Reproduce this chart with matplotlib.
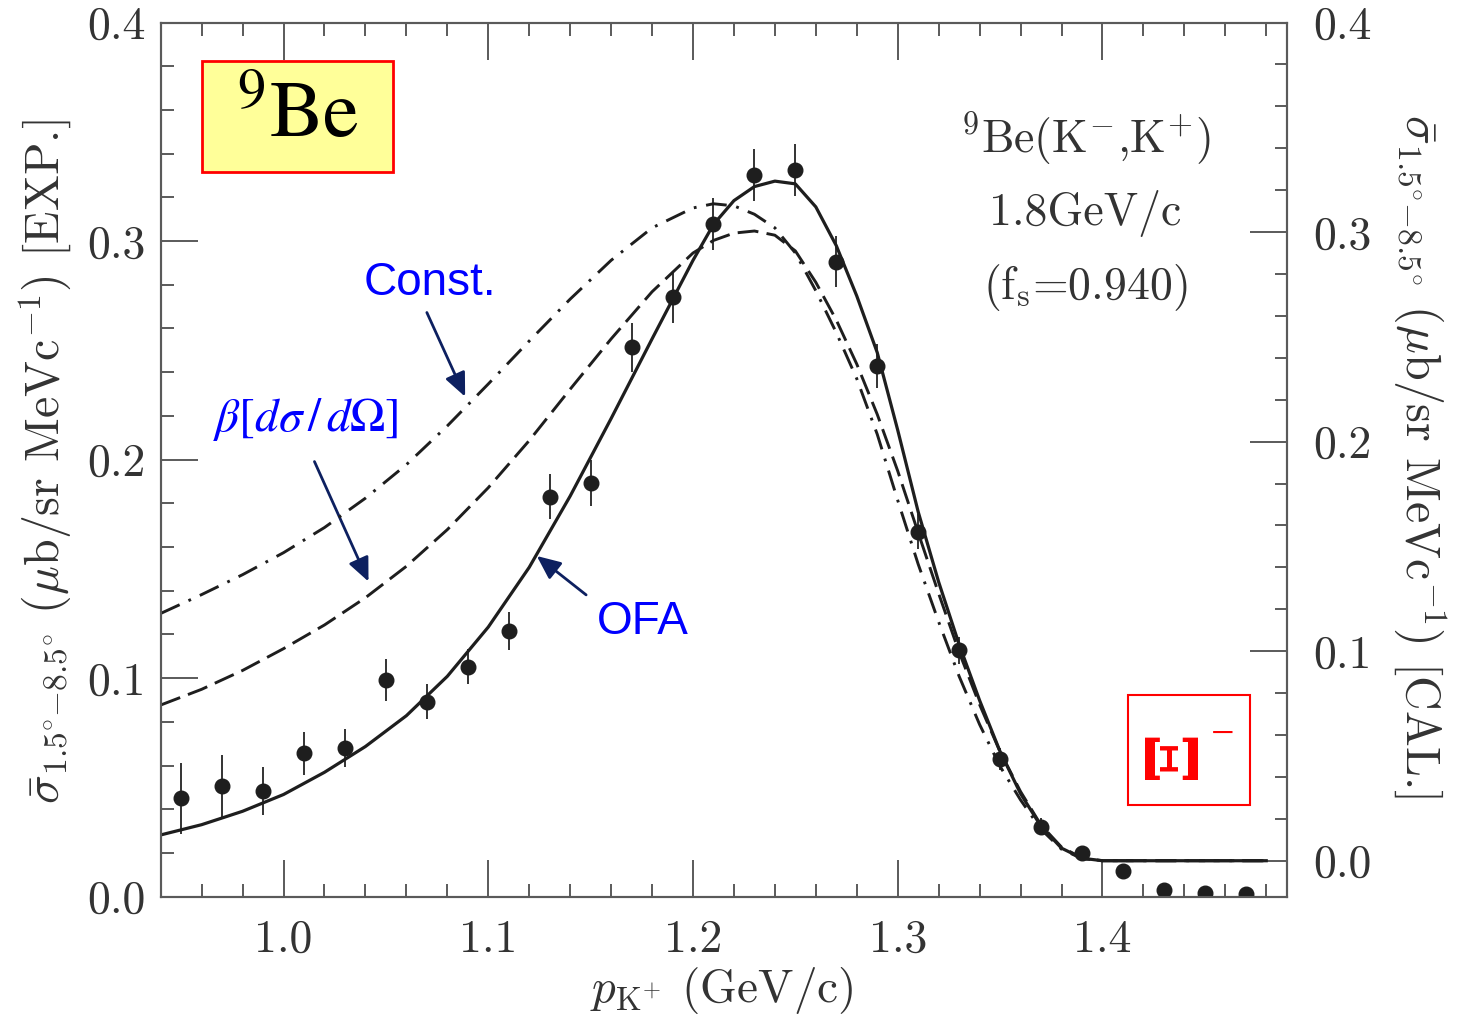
import matplotlib
matplotlib.use('Agg')
import matplotlib.pyplot as plt
from matplotlib.patches import Rectangle
from matplotlib.ticker import FixedLocator
import numpy as np

plt.rcParams['mathtext.fontset'] = 'cm'
plt.rcParams['font.family'] = 'serif'
plt.rcParams['font.serif'] = ['cmr10', 'DejaVu Serif']
plt.rcParams['axes.formatter.use_mathtext'] = True
plt.rcParams['lines.scale_dashes'] = False

# ---------------- data ----------------
# experimental points (left axis, EXP.)
p_exp = [0.95, 0.97, 0.99, 1.01, 1.03, 1.05, 1.07, 1.09, 1.11, 1.13, 1.15, 1.17, 1.19, 1.21,
         1.23, 1.25, 1.27, 1.29, 1.31, 1.33, 1.35, 1.37, 1.39, 1.41, 1.43, 1.45, 1.47]
sig_exp = [0.0450, 0.0507, 0.0484, 0.0656, 0.0679, 0.0992, 0.0891, 0.1053, 0.1216, 0.1830,
           0.1892, 0.2513, 0.2743, 0.3079, 0.3303, 0.3326, 0.2906, 0.2429, 0.1670, 0.1127,
           0.0632, 0.0321, 0.0201, 0.0118, 0.0031, 0.0018, 0.0011]
err_exp = [0.0162, 0.0141, 0.0108, 0.0098, 0.0087, 0.0097, 0.0080, 0.0082, 0.0088, 0.0102,
           0.0105, 0.0112, 0.0117, 0.0118, 0.0118, 0.0120, 0.0115, 0.0100, 0.0080, 0.0060,
           0.0050, 0.0040, 0.0020, 0.0015, 0.0010, 0.0010, 0.0010]

# calculated curves (right axis, CAL.)
p_cal = [0.94, 0.96, 0.98, 1.00, 1.02, 1.04, 1.06, 1.08, 1.10, 1.12, 1.14, 1.16, 1.18, 1.20,
         1.21, 1.22, 1.23, 1.24, 1.25, 1.26, 1.27, 1.28, 1.29, 1.30, 1.31, 1.32, 1.33, 1.34,
         1.35, 1.36, 1.37, 1.38, 1.39, 1.40, 1.42, 1.44, 1.46, 1.48]
sig_ofa = [0.0123, 0.0172, 0.0236, 0.0316, 0.0422, 0.0545, 0.0692, 0.0880, 0.1115, 0.1400,
           0.1740, 0.2110, 0.2490, 0.2865, 0.3036, 0.3150, 0.3217, 0.3243, 0.3230, 0.3120,
           0.2935, 0.2695, 0.2425, 0.2055, 0.1665, 0.1330, 0.1032, 0.0765, 0.0521, 0.0320,
           0.0164, 0.0060, 0.0012, 0.0, 0.0, 0.0, 0.0, 0.0]
sig_beta = [0.0743, 0.0818, 0.0908, 0.1012, 0.1125, 0.1255, 0.1405, 0.1580, 0.1780, 0.2005,
            0.2250, 0.2490, 0.2715, 0.2900, 0.2960, 0.2995, 0.3005, 0.2985, 0.2910, 0.2760,
            0.2580, 0.2370, 0.2130, 0.1860, 0.1565, 0.1275, 0.0995, 0.0745, 0.0520, 0.0330,
            0.0170, 0.0065, 0.0013, 0.0, 0.0, 0.0, 0.0, 0.0]
sig_const = [0.1180, 0.1270, 0.1365, 0.1470, 0.1590, 0.1730, 0.1890, 0.2075, 0.2275, 0.2480,
             0.2680, 0.2865, 0.3020, 0.3115, 0.3135, 0.3125, 0.3085, 0.3020, 0.2900, 0.2720,
             0.2520, 0.2300, 0.2035, 0.1720, 0.1415, 0.1140, 0.0880, 0.0650, 0.0450, 0.0290,
             0.0150, 0.0055, 0.0010, 0.0, 0.0, 0.0, 0.0, 0.0]

xticks = [1.0, 1.1, 1.2, 1.3, 1.4]
xtick_labels = ['1.0', '1.1', '1.2', '1.3', '1.4']
yticks = [0.0, 0.1, 0.2, 0.3, 0.4]
ytick_labels = ['0.0', '0.1', '0.2', '0.3', '0.4']

# ---------------- figure ----------------
W, H = 1458, 1014
fig = plt.figure(figsize=(W / 100, H / 100), dpi=100)
x0, x1, y0, y1 = 160.7, 1286.7, 896.7, 22.5
ax = fig.add_axes([x0 / W, 1 - y0 / H, (x1 - x0) / W, (y0 - y1) / H])
ax2 = ax.twinx()

LINE = '#1e1e1e'
SPINE = '#5a5a5a'
TXT = '#333333'

ax.set_xlim(0.94, 1.49)
ax.set_ylim(0.0, 0.4)
ax2.set_ylim(-0.01717, 0.3997)

ax.set_xticks(xticks)
ax.set_xticklabels(xtick_labels)
ax.xaxis.set_minor_locator(FixedLocator(np.arange(0.94, 1.4801, 0.02)))
ax.set_yticks(yticks)
ax.set_yticklabels(ytick_labels)
ax.yaxis.set_minor_locator(FixedLocator(np.arange(0.0, 0.4001, 0.02)))
ax2.set_yticks(yticks)
ax2.set_yticklabels(ytick_labels)
ax2.yaxis.set_minor_locator(FixedLocator(np.arange(0.0, 0.3801, 0.02)))

for a in (ax, ax2):
    for s in a.spines.values():
        s.set_color(SPINE)
        s.set_linewidth(1.5)

ax.tick_params(which='both', direction='in', top=True, right=False, color=SPINE,
               labelcolor=TXT, labelsize=33, width=1.4)
ax.tick_params(which='major', length=26.5)
ax.tick_params(which='minor', length=9.5)
ax.tick_params(axis='x', which='major', pad=16)
ax.tick_params(axis='y', which='major', pad=11)
ax2.tick_params(which='both', direction='in', color=SPINE, labelcolor=TXT,
                labelsize=33, width=1.4)
ax2.tick_params(which='major', length=26.5, pad=19)
ax2.tick_params(which='minor', length=8.5)

# curves
ax2.plot(p_cal, sig_const, color=LINE, lw=2.1, dashes=(15, 7, 2, 7))
ax2.plot(p_cal, sig_beta, color=LINE, lw=2.1, dashes=(15, 6))
ax2.plot(p_cal, sig_ofa, color=LINE, lw=2.3)

# data
ax.errorbar(p_exp, sig_exp, yerr=err_exp, fmt='o', ms=10.5, color=LINE,
            ecolor='#333333', elinewidth=1.4, capsize=0, zorder=5)

# labels
ylab = r'$\bar{\sigma}_{1.5^{\circ}{-}8.5^{\circ}}$ ($\mu$b/sr MeVc$^{-1}$) [%s]'
fig.text(45 / W, 1 - 462 / H, ylab % 'EXP.',
         rotation=90, ha='center', va='center', fontsize=34.5, color=TXT)
fig.text(1420 / W, 1 - 456 / H, ylab % 'CAL.',
         rotation=270, ha='center', va='center', fontsize=34.5, color=TXT)
fig.text(722 / W, 1 - 990 / H, r'$p_{\mathrm{K}^{+}}$ (GeV/c)',
         ha='center', va='center', fontsize=34, color=TXT)

# reaction text
ax.text(1.3915, 0.3463, r'$^{9}$Be(K$^{-}$,K$^{+}$)', ha='center', va='center',
        fontsize=33, color=TXT)
ax.text(1.3915, 0.3128, '1.8GeV/c', ha='center', va='center', fontsize=33, color=TXT)
ax.text(1.3915, 0.2789, r'(f$_{\mathrm{s}}$=0.940)', ha='center', va='center',
        fontsize=33, color=TXT)

# 9Be box
ax.add_patch(Rectangle((0.9603, 0.3318), 1.0535 - 0.9603, 0.3822 - 0.3318,
                       facecolor='#ffff99', edgecolor='#ff0000', lw=2, zorder=6))
ax.text(1.0069, 0.3570, r'${}^{9}\mathrm{Be}$', math_fontfamily='stix',
        ha='center', va='center', fontsize=58, color='black', zorder=7)

# Xi box
ax.add_patch(Rectangle((1.4124, 0.0420), 1.4720 - 1.4124, 0.0924 - 0.0420,
                       facecolor='white', edgecolor='#ff0000', lw=1.5, zorder=6))
ax.text(1.4350, 0.0655, '\u039e', family='DejaVu Serif', weight='bold', rotation=90,
        ha='center', va='center', fontsize=52, color='#ff0000', zorder=7)
ax.text(1.4585, 0.0735, '\u2212', family='Liberation Serif', ha='center', va='center',
        fontsize=30, color='#ff0000', zorder=7)

# annotations
BLUE = '#0000ff'
NAVY = '#0d2060'
ax.text(1.0716, 0.2808, 'Const.', family='Liberation Sans', ha='center', va='center',
        fontsize=33, color=BLUE)
ax.text(1.0111, 0.2182, r'$\beta\left[d\sigma\,/\,d\Omega\right]$', math_fontfamily='stix',
        ha='center', va='center', fontsize=34, color=BLUE)
ax.text(1.1755, 0.1257, 'OFA', family='Liberation Sans', ha='center', va='center',
        fontsize=33, color=BLUE)

arrow = dict(arrowstyle='-|>,head_length=0.9,head_width=0.4', lw=2, color=NAVY,
             mutation_scale=16, shrinkA=0, shrinkB=0)
ax.annotate('', xy=(1.0887, 0.2288), xytext=(1.0700, 0.2673), arrowprops=arrow)
ax.annotate('', xy=(1.0415, 0.1442), xytext=(1.0151, 0.1991), arrowprops=arrow)
ax.annotate('', xy=(1.1237, 0.1559), xytext=(1.1478, 0.1381), arrowprops=arrow)

fig.savefig('out.png', dpi=100, facecolor='white')
